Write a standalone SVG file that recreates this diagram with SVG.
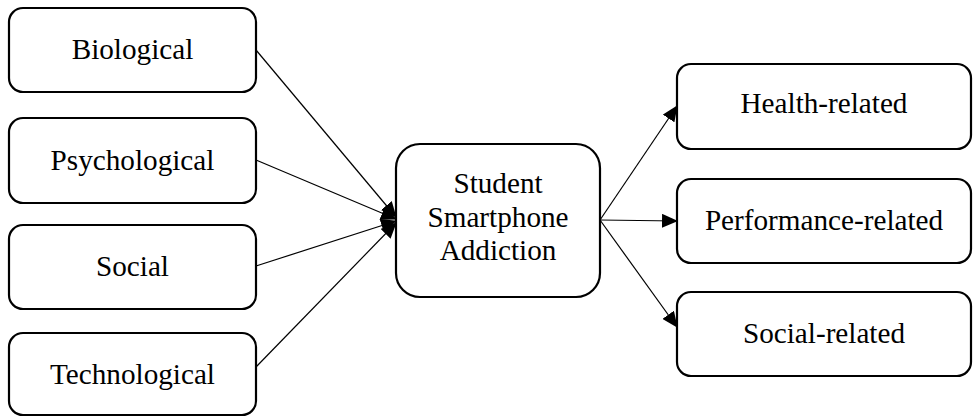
<svg xmlns="http://www.w3.org/2000/svg" width="973" height="417" viewBox="0 0 973 417">
<style>
.box{fill:#fff;stroke:#000;stroke-width:2.2}
.t{font-family:"Liberation Serif","Times New Roman",serif;font-size:29.2px;fill:#000;text-anchor:middle}
.c{stroke:#000;stroke-width:1.2;fill:none;marker-end:url(#ah)}
</style>
<defs>
<marker id="ah" markerUnits="userSpaceOnUse" markerWidth="16" markerHeight="14" refX="15" refY="7" orient="auto">
<path d="M0,0 L16,7 L0,14 Z" fill="#000"/>
</marker>
</defs>
<rect width="973" height="417" fill="#fff"/>
<g id="connectors">
<line class="c" x1="256" y1="50" x2="396" y2="217"/>
<line class="c" x1="256" y1="160" x2="396" y2="219"/>
<line class="c" x1="256" y1="266" x2="396" y2="221"/>
<line class="c" x1="256" y1="367" x2="396" y2="223"/>
<line class="c" x1="600" y1="220" x2="677" y2="106"/>
<line class="c" x1="600" y1="220" x2="677" y2="221"/>
<line class="c" x1="600" y1="220" x2="677" y2="327"/>
</g>
<g id="biological"><rect class="box" x="9" y="8" width="247" height="84" rx="14"/><text class="t" x="132.5" y="59">Biological</text></g>
<g id="psychological"><rect class="box" x="9" y="118" width="247" height="85" rx="14"/><text class="t" x="132.5" y="170">Psychological</text></g>
<g id="social"><rect class="box" x="9" y="225" width="247" height="84" rx="14"/><text class="t" x="132.5" y="276">Social</text></g>
<g id="technological"><rect class="box" x="9" y="333" width="247" height="82" rx="14"/><text class="t" x="132.5" y="384">Technological</text></g>
<g id="addiction"><rect class="box" x="396" y="144" width="204" height="153" rx="24"/><text class="t" x="498" y="193">Student</text><text class="t" x="498" y="227">Smartphone</text><text class="t" x="498" y="260">Addiction</text></g>
<g id="health"><rect class="box" x="677" y="64" width="294" height="85" rx="14"/><text class="t" x="824" y="113">Health-related</text></g>
<g id="performance"><rect class="box" x="677" y="179" width="294" height="84" rx="14"/><text class="t" x="824" y="230">Performance-related</text></g>
<g id="socialrel"><rect class="box" x="677" y="292" width="294" height="84" rx="14"/><text class="t" x="824" y="343">Social-related</text></g>
</svg>
